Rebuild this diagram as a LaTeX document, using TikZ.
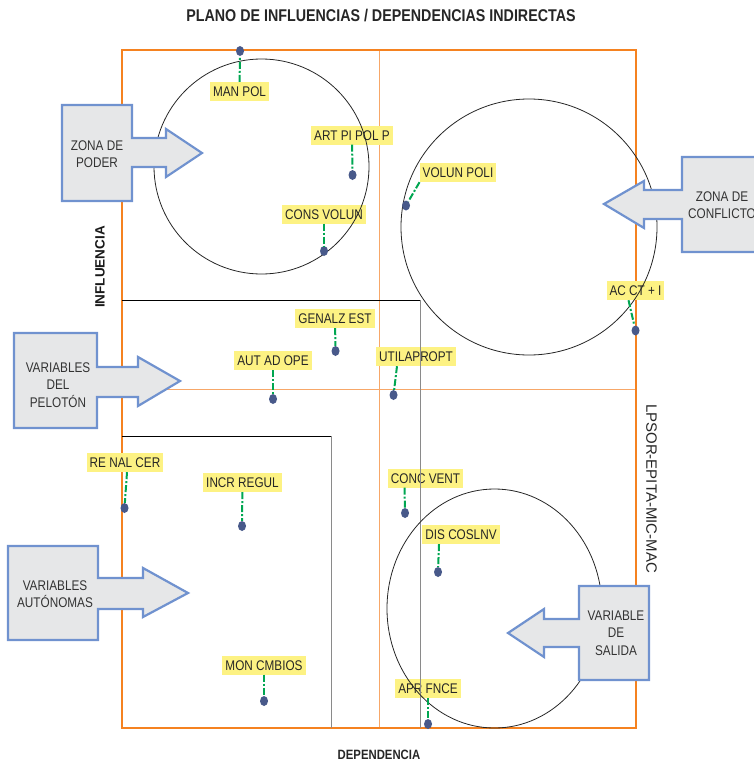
\documentclass[tikz,border=0pt]{standalone}
\usepackage{fontspec}
\setmainfont{Liberation Sans}
\newfontfamily\estrecha{Liberation Sans}[FakeStretch=0.84]
\usetikzlibrary{shapes.geometric}
\definecolor{naranja}{HTML}{F58220}
\definecolor{naranjaclaro}{HTML}{F7A768}
\definecolor{amarillo}{HTML}{FDF283}
\definecolor{verde}{HTML}{00A651}
\definecolor{puntoazul}{HTML}{48598A}
\definecolor{azulborde}{HTML}{7092CF}
\definecolor{grisfondo}{HTML}{E6E7E8}
\definecolor{gristexto}{HTML}{333333}
\definecolor{grislinea}{HTML}{8A8A8A}
\begin{document}
\begin{tikzpicture}[x=1pt,y=-1pt,
  etiqueta/.style={fill=amarillo, text=black!85, font=\estrecha\fontsize{14}{16}\selectfont,
    inner xsep=3pt, inner ysep=0pt, text height=10pt, text depth=0pt, minimum height=19pt},
  punto/.style={ellipse, fill=puntoazul, minimum width=8pt, minimum height=10pt, inner sep=0pt},
  guia/.style={draw=verde, line width=2pt, dash pattern=on 7pt off 2pt on 2pt off 2pt},
  bloque/.style={draw=azulborde, fill=grisfondo, line width=2.2pt, line join=miter},
  txtbloque/.style={align=center, text=gristexto, font=\estrecha\fontsize{14}{17.5}\selectfont}]
\useasboundingbox (0,0) rectangle (753,763);
% plano
\draw[naranjaclaro, line width=1pt] (379,50) -- (379,728);
\draw[naranjaclaro, line width=1pt] (122,389) -- (636,389);
\draw[naranja, line width=2pt] (122,50) rectangle (636,728);
% etiquetas
\node[etiqueta] (t1) at (239.5,91.5) {MAN POL};
\node[etiqueta] (t2) at (352,135) {ART PI POL P};
\node[etiqueta] (t3) at (324,214) {CONS VOLUN};
\node[etiqueta] (t4) at (458,172.5) {VOLUN POLI};
\node[etiqueta] (t5) at (635.5,290.5) {AC CT + I};
\node[etiqueta] (t6) at (335,318.5) {GENALZ EST};
\node[etiqueta] (t7) at (273,360.5) {AUT AD OPE};
\node[etiqueta] (t8) at (416,356.5) {UTILAPROPT};
\node[etiqueta] (t9) at (125,462.5) {RE NAL CER};
\node[etiqueta] (t10) at (242.5,482.5) {INCR REGUL};
\node[etiqueta] (t11) at (264,665) {MON CMBIOS};
\node[etiqueta] (t12) at (425.5,478) {CONC VENT};
\node[etiqueta] (t13) at (461,534.5) {DIS COSLNV};
\node[etiqueta] (t14) at (428,688.5) {APR FNCE};
% zonas
\draw[black, line width=0.8pt] (122,300) -- (420,300);
\draw[grislinea, line width=1pt] (420,300) -- (420,728);
\draw[black, line width=0.8pt] (122,436) -- (331,436);
\draw[grislinea, line width=1pt] (331,436) -- (331,728);
\draw[black!85, line width=0.8pt] (261.5,166.5) circle[radius=107.5pt];
\draw[black!85, line width=0.8pt] (529,227) circle[radius=128pt];
\draw[black!85, line width=0.8pt] (494.5,608.5) ellipse[x radius=107.5pt, y radius=119.5pt];
% variables
\node[punto] (1) at (240,51) {};
\node[punto] (2) at (352.5,175) {};
\node[punto] (3) at (324,251) {};
\node[punto] (4) at (406,205.5) {};
\node[punto] (5) at (635.5,330.5) {};
\node[punto] (6) at (335.5,351) {};
\node[punto] (7) at (273,399) {};
\node[punto] (8) at (393.5,395) {};
\node[punto] (9) at (124.5,508) {};
\node[punto] (10) at (242,526) {};
\node[punto] (11) at (264,701) {};
\node[punto] (12) at (405,513) {};
\node[punto] (13) at (438,572) {};
\node[punto] (14) at (428,724) {};
\path[guia] (t1) -- (1);
\path[guia] (t2) -- (2);
\path[guia] (t3) -- (3);
\path[guia] (t4.south west) -- (4);
\path[guia] ([xshift=-7pt]t5.south) -- (5);
\path[guia] (t6) -- (6);
\path[guia] (t7) -- (7);
\path[guia] ([xshift=-19pt]t8.south) -- (8);
\path[guia] ([xshift=2pt]t9.south) -- (9);
\path[guia] (t10) -- (10);
\path[guia] (t11) -- (11);
\path[guia] ([xshift=-21pt]t12.south) -- (12);
\path[guia] ([xshift=-22pt]t13.south) -- (13);
\path[guia] (t14) -- (14);
% flechas
\draw[bloque] (62,105) -- (132,105) -- (132,138) -- (166,138) -- (166,129) -- (202,153)
  -- (166,177) -- (166,167) -- (132,167) -- (132,201) -- (62,201) -- cycle;
\node[txtbloque] (poder) at (97,154) {ZONA DE\\PODER};
\draw[bloque] (762,157) -- (682,157) -- (682,190) -- (644,190) -- (644,181) -- (604,204)
  -- (644,228) -- (644,219) -- (682,219) -- (682,252) -- (762,252) -- cycle;
\node[txtbloque] (conflicto) at (722,205) {ZONA DE\\CONFLICTO};
\draw[bloque] (14,333) -- (97,333) -- (97,367) -- (138,367) -- (138,357) -- (180,381)
  -- (138,406) -- (138,397) -- (97,397) -- (97,428) -- (14,428) -- cycle;
\node[txtbloque] (peloton) at (58,385) {VARIABLES\\DEL\\PELOTÓN};
\draw[bloque] (8,546) -- (98,546) -- (98,578) -- (143,578) -- (143,568) -- (188,593)
  -- (143,617) -- (143,609) -- (98,609) -- (98,640) -- (8,640) -- cycle;
\node[txtbloque] (autonomas) at (55,594) {VARIABLES\\AUTÓNOMAS};
\draw[bloque] (649,586) -- (579,586) -- (579,619) -- (544,619) -- (544,609) -- (508,633)
  -- (544,657) -- (544,647) -- (579,647) -- (579,680) -- (649,680) -- cycle;
\node[txtbloque] (salida) at (616,633) {VARIABLE\\DE\\SALIDA};
% textos
\node[font=\estrecha\bfseries\fontsize{17}{20}\selectfont, text=black!85] (titulo) at (381,16)
  {PLANO DE INFLUENCIAS / DEPENDENCIAS INDIRECTAS};
\node[font=\bfseries\fontsize{13.5}{16}\selectfont, rotate=90, text=black!90] (influencia) at (100,267) {INFLUENCIA};
\node[font=\estrecha\bfseries\fontsize{13.5}{16}\selectfont, text=black!85] (dependencia) at (379,755) {DEPENDENCIA};
\node[font=\fontsize{15}{18}\selectfont, rotate=-90, text=black!85] (fuente) at (651.5,488.5) {LPSOR-EPITA-MIC-MAC};
\end{tikzpicture}
\end{document}
